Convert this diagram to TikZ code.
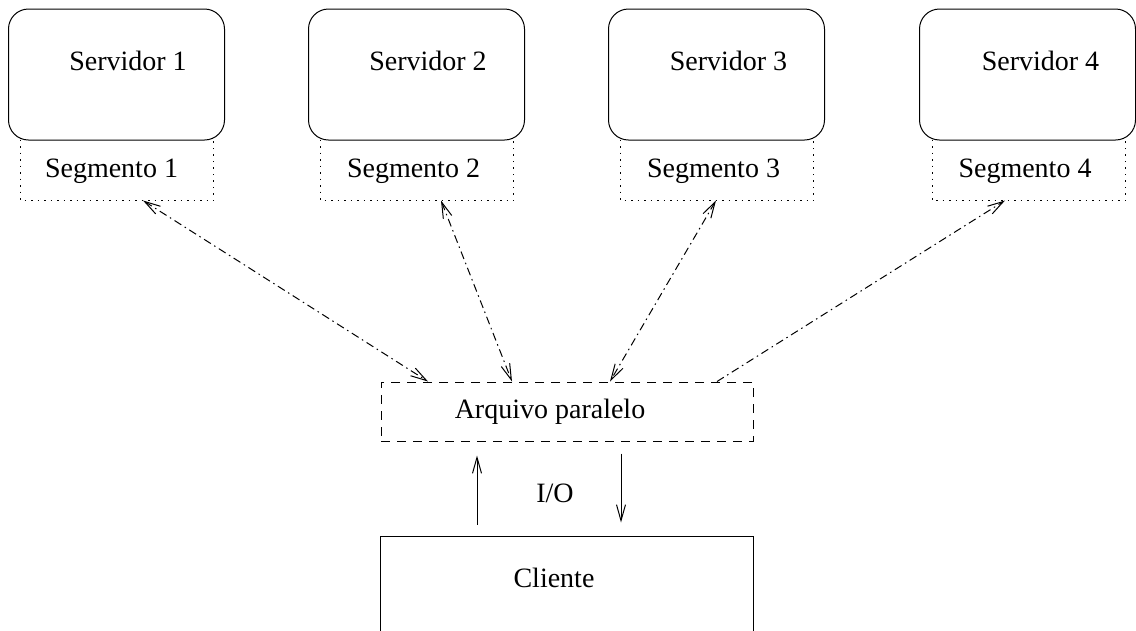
\documentclass[tikz,border=0pt]{standalone}
\usepackage{fontspec}
\setmainfont{Liberation Serif}
\usetikzlibrary{arrows.meta,calc}

\begin{document}
\begin{tikzpicture}[x=1pt,y=-1pt,
  line width=1pt,
  font=\fontsize{28}{34}\selectfont,
  vbarb/.tip={Straight Barb[length=16pt, width=9pt, line width=1pt]},
  server/.style={draw, rounded corners=20pt, minimum width=216pt, minimum height=131pt, inner sep=0pt},
  segbox/.style={minimum width=192pt, minimum height=60pt, inner sep=0pt},
  txt/.style={anchor=base, inner sep=0pt},
  seglink/.style={dash pattern=on 8pt off 4pt on 1.5pt off 4pt},
  dotline/.style={dash pattern=on 1.5pt off 5pt}
]
\useasboundingbox (0,0) rectangle (1136,630);

% servers
\node[server] (srv1) at (116.5,74.5) {};
\node[server] (srv2) at (416.5,74.5) {};
\node[server] (srv3) at (716.5,74.5) {};
\node[server] (srv4) at (1027.5,74.5) {};
\node[txt] (srv1t) at (128,70) {Servidor 1};
\node[txt] (srv2t) at (428,70) {Servidor 2};
\node[txt] (srv3t) at (728.5,70) {Servidor 3};
\node[txt] (srv4t) at (1040.5,70) {Servidor 4};

% segments hanging below each server
\node[segbox] (seg1) at (117,170) {};
\node[segbox] (seg2) at (417,170) {};
\node[segbox] (seg3) at (717,170) {};
\node[segbox] (seg4) at (1028.5,170) {};
\foreach \s in {seg1,seg2,seg3,seg4}
  \draw[dotline] (\s.north west) -- (\s.south west) -- (\s.south east) -- (\s.north east);
\node[txt] (seg1t) at (111.5,177) {Segmento 1};
\node[txt] (seg2t) at (413.5,177) {Segmento 2};
\node[txt] (seg3t) at (713.5,177) {Segmento 3};
\node[txt] (seg4t) at (1025,177) {Segmento 4};

% parallel file
\node[draw, dash pattern=on 9pt off 7pt, minimum width=372pt, minimum height=59pt, inner sep=0pt]
  (arq) at (567,411.5) {};
\node[txt] (arqt) at (550,418) {Arquivo paralelo};

% client (box runs past the lower edge)
\node[minimum width=372pt, minimum height=120pt, inner sep=0pt] (cli) at (567,597) {};
\draw (cli.south west) -- (cli.north west) -- (cli.north east) -- (cli.south east);
\node[txt] (clit) at (554,587) {Cliente};

% links between segments and the parallel file
\draw[seglink, {vbarb}-{vbarb}] ($(seg1.south)+(26,0)$) -- ($(arq.north)+(-139,0)$);
\draw[seglink, {vbarb}-{vbarb}] ($(seg2.south)+(24,0)$) -- ($(arq.north)+(-55,0)$);
\draw[seglink, {vbarb}-{vbarb}] ($(seg3.south)+(-1,0)$) -- ($(arq.north)+(43,0)$);
\draw[seglink, -{vbarb}] ($(arq.north)+(150,0)$) -- ($(seg4.south)+(-23.5,0)$);

% I/O between client and file
\draw[-{vbarb}] ($(cli.north)+(-90,-12)$) -- ($(arq.south)+(-90,14)$);
\draw[-{vbarb}] ($(arq.south)+(54,12)$) -- ($(cli.north)+(54,-14)$);
\node[txt] (io) at (555,502) {I/O};
\end{tikzpicture}
\end{document}
